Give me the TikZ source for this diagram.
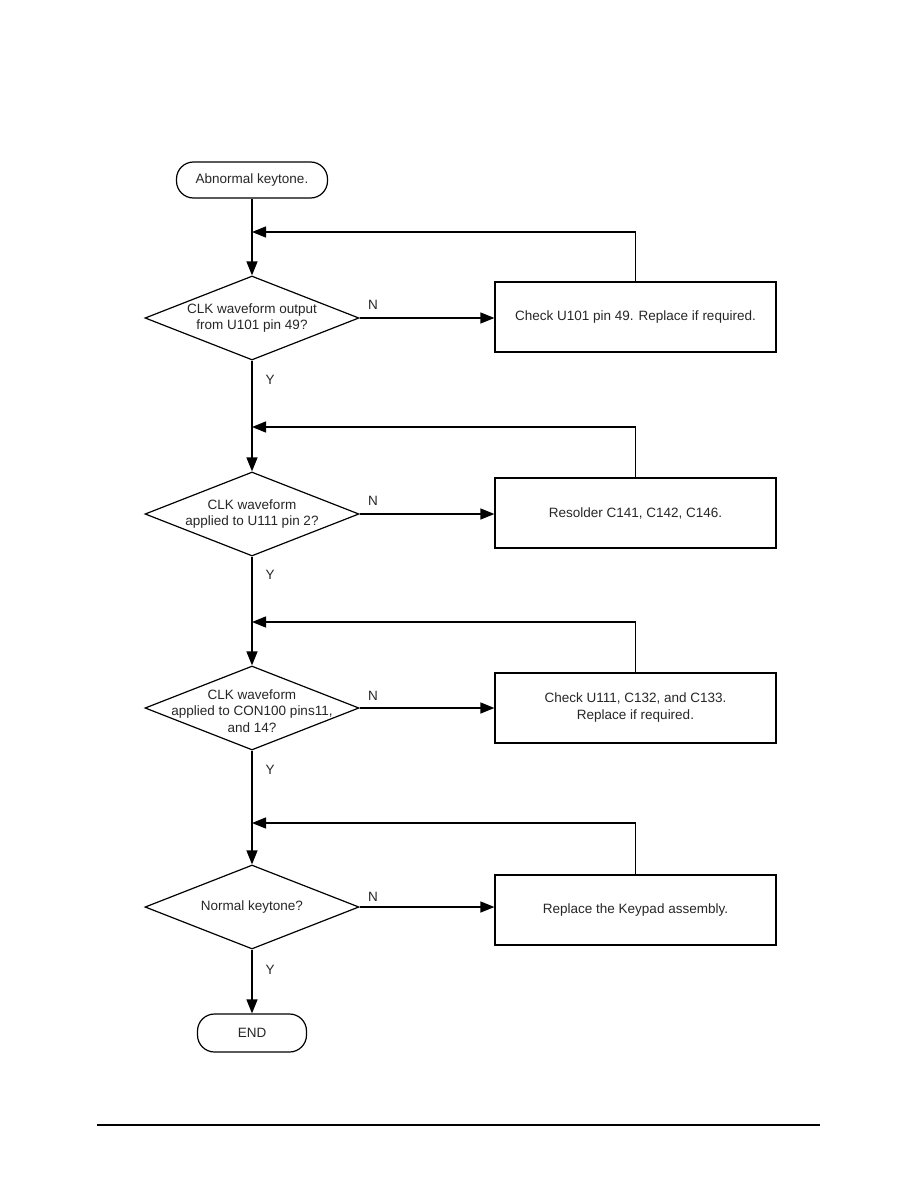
\documentclass[tikz,border=0pt]{standalone}
\usepackage{fontspec}
\setmainfont{Liberation Sans}
\usetikzlibrary{shapes.geometric,arrows.meta}
\begin{document}
\begin{tikzpicture}[x=1pt,y=-1pt,
  every node/.style={font=\fontsize{13.5}{17}\selectfont, text=black!85},
  line/.style={line width=1.4pt, black},
  flow/.style={line, -{Triangle[length=14pt,width=11pt]}},
  terminal/.style={draw, line width=1.2pt, rounded corners=17pt, inner sep=0pt},
  decision/.style={draw, diamond, line width=1.2pt, inner sep=0pt, minimum width=214pt, minimum height=84pt},
  dlabel/.style={align=center, inner sep=0pt, font=\fontsize{13.5}{16.5}\selectfont, text=black!85},
  actbox/.style={draw, line width=1.2pt, minimum width=281pt, minimum height=70pt, align=center, inner sep=0pt},
  yn/.style={inner sep=0pt, font=\fontsize{13.5}{15}\selectfont}
]
\useasboundingbox (0,0) rectangle (918,1188);

% terminals
\node[terminal, minimum width=151pt, minimum height=36pt] (start) at (252,180) {Abnormal keytone.};
\node[terminal, minimum width=109pt, minimum height=38pt] (end) at (252,1033) {END};

% decisions
\node[decision, label={[dlabel]center:CLK waveform output\\from U101 pin 49?}] (d1) at (252,318) {};
\node[decision, label={[dlabel]center:CLK waveform\\applied to U111 pin 2?}] (d2) at (252,514) {};
\node[decision, label={[dlabel,yshift=-3pt]center:CLK waveform\\applied to CON100 pins11,\\and 14?}] (d3) at (252,708) {};
\node[decision, label={[dlabel]center:Normal keytone?}] (d4) at (252,907) {};

% action boxes
\node[actbox] (b1) at (635.5,317) {Check U101 pin 49. Replace if required.};
\node[actbox] (b2) at (635.5,513) {Resolder C141, C142, C146.};
\node[actbox] (b3) at (635.5,708) {Check U111, C132, and C133.\\Replace if required.};
\node[actbox] (b4) at (635.5,910) {Replace the Keypad assembly.};

% merge points
\coordinate (m1) at (252,232);
\coordinate (m2) at (252,427);
\coordinate (m3) at (252,622);
\coordinate (m4) at (252,823);

% main flow
\draw[flow] (start.south) -- (d1.north);
\draw[flow] (d1.south) -- (d2.north);
\draw[flow] (d2.south) -- (d3.north);
\draw[flow] (d3.south) -- (d4.north);
\draw[flow] (d4.south) -- (end.north);

% N branches
\draw[flow] (d1.east) -- (d1.east -| b1.west);
\draw[flow] (d2.east) -- (d2.east -| b2.west);
\draw[flow] (d3.east) -- (d3.east -| b3.west);
\draw[flow] (d4.east) -- (d4.east -| b4.west);

% feedback loops
\draw[flow] (b1.north) |- (m1);
\draw[flow] (b2.north) |- (m2);
\draw[flow] (b3.north) |- (m3);
\draw[flow] (b4.north) |- (m4);

% labels
\node[yn] (n1) at (373,305) {N};
\node[yn] (n2) at (373,501) {N};
\node[yn] (n3) at (373,696) {N};
\node[yn] (n4) at (373,897) {N};
\node[yn] (y1) at (270,380) {Y};
\node[yn] (y2) at (270,575) {Y};
\node[yn] (y3) at (270,770) {Y};
\node[yn] (y4) at (270,970) {Y};

% footer rule
\coordinate (f1) at (97,1125);
\coordinate (f2) at (820,1125);
\draw[line width=2pt] (f1) -- (f2);
\end{tikzpicture}
\end{document}
